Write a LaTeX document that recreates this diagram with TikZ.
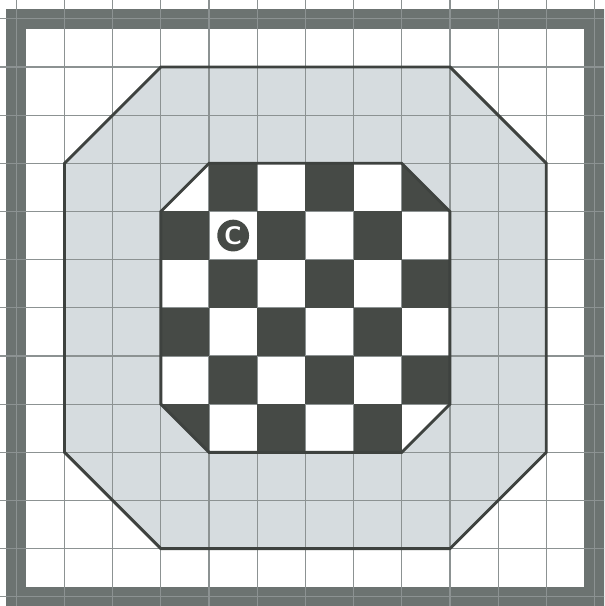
\documentclass[tikz,border=0pt]{standalone}
\usepackage{tikz}
\definecolor{boardgray}{RGB}{70,74,70}
\definecolor{edgegray}{RGB}{62,66,63}
\definecolor{fillgray}{RGB}{214,220,223}
\definecolor{gridgray}{RGB}{140,146,146}
\definecolor{framegray}{RGB}{108,115,113}

\begin{document}
\begin{tikzpicture}[
  gridline/.style={draw=gridgray, line width=0.7pt},
  outline/.style={draw=edgegray, line width=1.7pt, line join=miter},
  darkcell/.style={fill=boardgray},
  frame/.style={draw=framegray, line width=0.42cm},
]
\clip (-0.34,-0.19) rectangle (12.20,12.39);
\fill[white] (-0.34,-0.19) rectangle (12.20,12.39);
% outer octagon and inner board
\fill[fillgray] (3,11) -- (9,11) -- (11,9) -- (11,3) -- (9,1) -- (3,1) -- (1,3) -- (1,9) -- cycle;
\fill[white] (4,9) -- (8,9) -- (9,8) -- (9,4) -- (8,3) -- (4,3) -- (3,4) -- (3,8) -- cycle;
% frame and grid
\draw[frame] (0,0) rectangle (12,12);
\draw[gridline] (-1,-1) grid (13,13);
% dark squares
\begin{scope}
  \clip (4,9) -- (8,9) -- (9,8) -- (9,4) -- (8,3) -- (4,3) -- (3,4) -- (3,8) -- cycle;
  \foreach \x in {3,...,8}
    \foreach \y in {3,...,8}{
      \pgfmathtruncatemacro{\parity}{mod(\x+\y,2)}
      \ifnum\parity=0 \fill[darkcell] (\x,\y) rectangle ++(1,1); \fi
    }
\end{scope}
\draw[outline] (3,11) -- (9,11) -- (11,9) -- (11,3) -- (9,1) -- (3,1) -- (1,3) -- (1,9) -- cycle;
\draw[outline] (4,9) -- (8,9) -- (9,8) -- (9,4) -- (8,3) -- (4,3) -- (3,4) -- (3,8) -- cycle;
\node[circle, fill=boardgray, text=white, minimum size=0.66cm, inner sep=0pt,
  font=\sffamily\bfseries\fontsize{15}{15}\selectfont] (copyright) at (4.5,7.5) {C};
\end{tikzpicture}
\end{document}
